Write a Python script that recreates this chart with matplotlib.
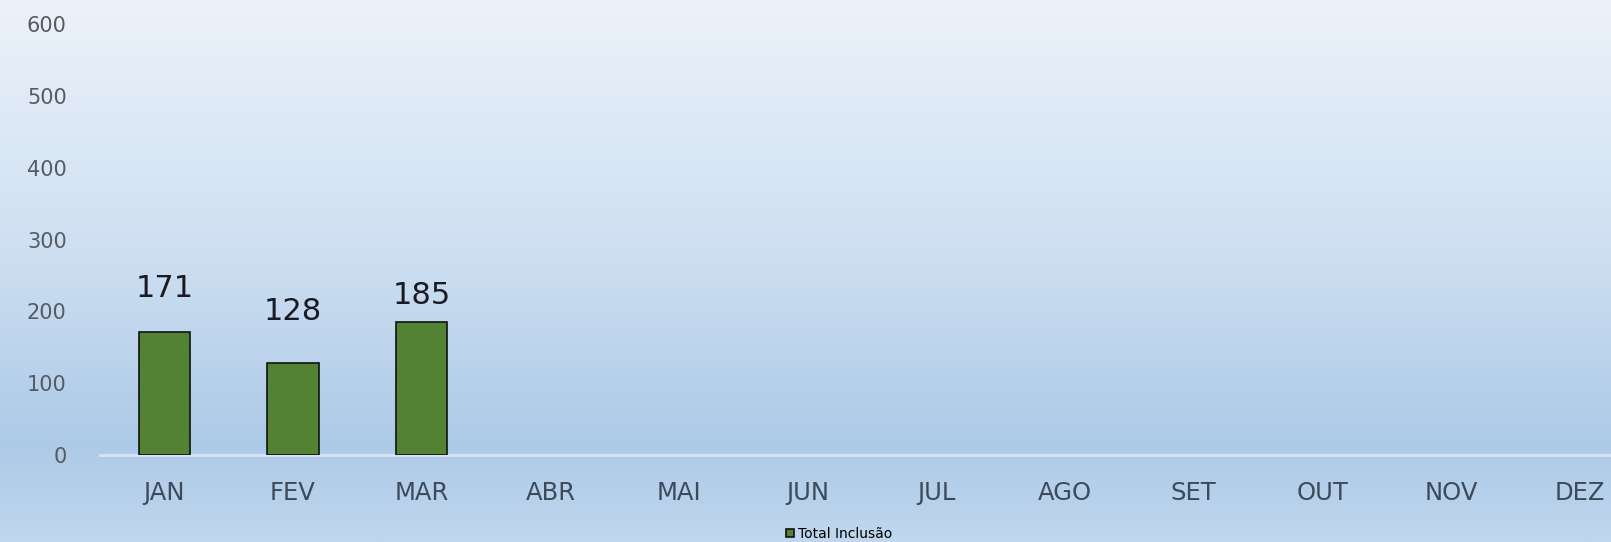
import numpy as np
import matplotlib
matplotlib.use("Agg")
import matplotlib.pyplot as plt
from matplotlib.colors import LinearSegmentedColormap

# dados
MONTHS = ["JAN", "FEV", "MAR", "ABR", "MAI", "JUN",
          "JUL", "AGO", "SET", "OUT", "NOV", "DEZ"]
TOTAL = [171, 128, 185]
LABEL_OFFSETS = [21, 27, 9]   # distancia do rotulo ao topo da barra (pt)
Y_TICKS = [0, 100, 200, 300, 400, 500, 600]

BAR_COLOR = "#548235"
W, H = 1611, 542

plt.rcParams['font.family'] = ['DejaVu Sans']

fig = plt.figure(figsize=(W / 100, H / 100), dpi=100)

# fundo em degrade
bg = fig.add_axes([0, 0, 1, 1], zorder=0)
cmap = LinearSegmentedColormap.from_list(
    "bg", [(0.0, "#ecf2fa"), (0.45, "#cfe0f2"), (0.82, "#adcae7"),
           (1.0, "#c0d7ee")])
grad = np.linspace(0, 1, 256).reshape(-1, 1)
bg.imshow(grad, aspect="auto", cmap=cmap, extent=[0, 1, 0, 1], origin="upper")
bg.set_axis_off()

ax = fig.add_axes([100 / W, 87 / H, 1544 / W, 431 / H], zorder=1)
ax.patch.set_alpha(0)

x = np.arange(len(TOTAL))
bars = ax.bar(x, TOTAL, width=0.4, color=BAR_COLOR, edgecolor="#111111",
              linewidth=1.2, label="Total Inclusão", zorder=3)

for xi, v, off in zip(x, TOTAL, LABEL_OFFSETS):
    ax.annotate(str(v), xy=(xi, v), xytext=(0, off), textcoords="offset points",
                ha="center", va="bottom", fontsize=22, color="#1a1a24")

ax.set_xlim(-0.5, len(MONTHS) - 0.5)
ax.set_ylim(0, 600)
ax.set_xticks(np.arange(len(MONTHS)))
ax.set_xticklabels(MONTHS, fontsize=17.5, color="#3d4a5a")
ax.set_yticks(Y_TICKS)
ax.set_yticklabels([str(t) for t in Y_TICKS], fontsize=15, color="#555b63")
ax.tick_params(axis="x", length=0, pad=18.5)
ax.tick_params(axis="y", length=0, pad=24)

for s in ["top", "right", "left"]:
    ax.spines[s].set_visible(False)
ax.spines["bottom"].set_color("#d6e4f3")
ax.spines["bottom"].set_linewidth(2)

fig.legend(handles=[bars], labels=["Total Inclusão"], loc="center",
           bbox_to_anchor=(0.521, 0.015), frameon=False,
           handlelength=0.6, handleheight=0.6, handletextpad=0.3,
           borderpad=0.1, prop={'family': 'DejaVu Sans', 'size': 10})

fig.savefig("out.png", dpi=100)
